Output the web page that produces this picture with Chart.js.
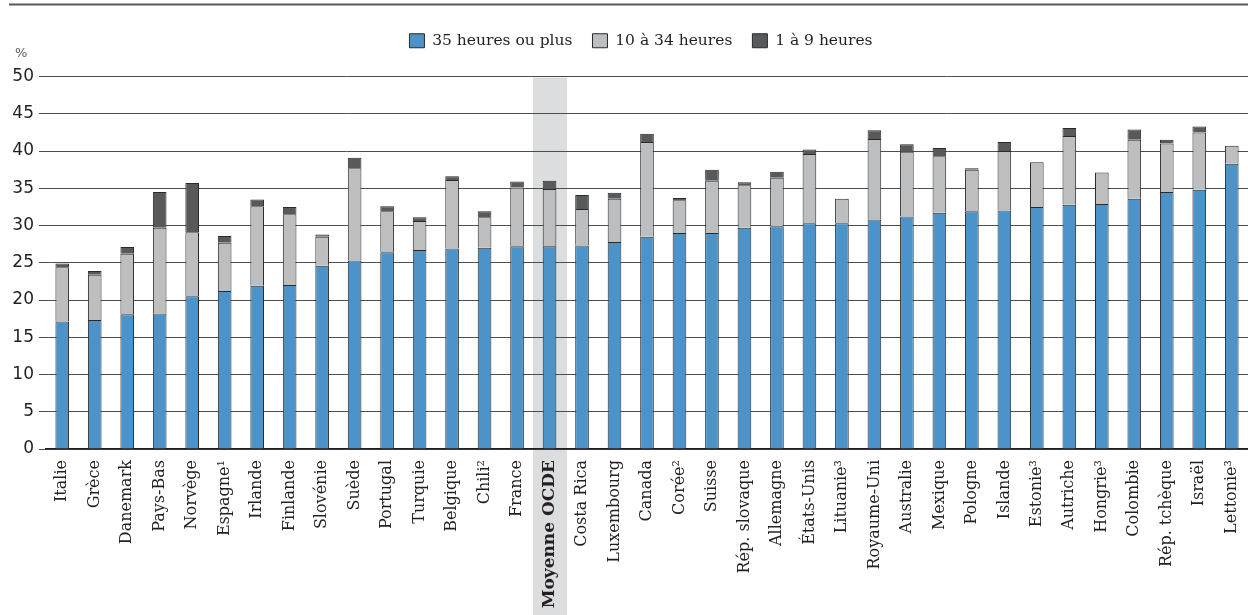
<!DOCTYPE html>
<html><head><meta charset="utf-8">
<script src="https://cdn.jsdelivr.net/npm/chart.js@4.4.1/dist/chart.umd.min.js"></script>
<style>html,body{margin:0;padding:0;background:#fff;}canvas{display:block;}</style>
</head><body>
<canvas id="c" width="1248" height="615"></canvas>
<script>
const categories = ["Italie","Grèce","Danemark","Pays-Bas","Norvège","Espagne¹","Irlande","Finlande","Slovénie","Suède","Portugal","Turquie","Belgique","Chili²","France","Moyenne OCDE","Costa Rica","Luxembourg","Canada","Corée²","Suisse","Rép. slovaque","Allemagne","États-Unis","Lituanie³","Royaume-Uni","Australie","Mexique","Pologne","Islande","Estonie³","Autriche","Hongrie³","Colombie","Rép. tchèque","Israël","Lettonie³"];
const seriesNames = ["35 heures ou plus","10 à 34 heures","1 à 9 heures"];
const hours35plus = [17.1,17.3,18.1,18.2,20.5,21.2,21.9,22.0,24.6,25.3,26.4,26.7,26.9,27.0,27.2,27.2,27.3,27.8,28.5,29.0,29.0,29.7,29.9,30.3,30.3,30.8,31.2,31.7,31.9,32.0,32.5,32.8,32.9,33.6,34.5,34.8,38.3];
const hours10to34 = [7.3,6.1,8.1,11.5,8.6,6.5,10.7,9.5,3.9,12.4,5.5,3.9,9.2,4.1,7.9,7.7,4.9,5.8,12.7,4.4,7.0,5.7,6.5,9.3,3.3,10.8,8.7,7.6,5.6,8.0,6.0,9.2,4.2,7.9,6.5,7.7,2.4];
const hours1to9 = [0.5,0.5,0.9,4.8,6.6,0.9,0.9,1.0,0.3,1.4,0.7,0.5,0.5,0.8,0.8,1.1,1.9,0.8,1.1,0.3,1.5,0.4,0.8,0.6,0,1.2,1.0,1.1,0.2,1.2,0,1.1,0,1.4,0.5,0.8,0];
const yTicks = [0,5,10,15,20,25,30,35,40,45,50];
const highlightLabel = "Moyenne OCDE";

const TXT = '#231f20';
const extras = {
  id: 'extras',
  beforeInit(chart) {
    const lg = chart.legend;
    if (lg && !lg._patched) {
      const orig = lg.fit;
      lg.fit = function () { orig.call(this); this.height += 18; };
      lg._patched = true;
    }
  },
  afterLayout(chart) {
    if (chart.legend) { chart.legend.left += 34; }
  },
  beforeDraw(chart) {
    const ctx = chart.ctx, x = chart.scales.x, ca = chart.chartArea;
    const i = categories.indexOf(highlightLabel);
    const cx = x.getPixelForValue(i);
    ctx.save();
    ctx.fillStyle = '#dcdddf';
    ctx.fillRect(cx - 16.5, ca.top + 1, 34, chart.height - ca.top);
    ctx.restore();
  },
  afterDraw(chart) {
    const ctx = chart.ctx;
    ctx.save();
    ctx.strokeStyle = '#58595b';
    ctx.lineWidth = 2;
    ctx.beginPath(); ctx.moveTo(9, 4.5); ctx.lineTo(1248, 4.5); ctx.stroke();
    ctx.fillStyle = '#58595b';
    ctx.font = '13px "DejaVu Sans"';
    ctx.textBaseline = 'alphabetic';
    ctx.fillText('%', 15, 57);
    ctx.restore();
  }
};

const mk = (label, data, color) => ({label, data, backgroundColor: color, borderColor: '#2a2a2a', borderWidth: 1, borderSkipped: 'start', barPercentage: 0.42, categoryPercentage: 1.0});

new Chart(document.getElementById('c'), {
  type: 'bar',
  data: {
    labels: categories,
    datasets: [
      mk(seriesNames[0], hours35plus, '#4b93c8'),
      mk(seriesNames[1], hours10to34, '#bdbec0'),
      mk(seriesNames[2], hours1to9, '#58595b')
    ]
  },
  options: {
    responsive: false,
    animation: false,
    devicePixelRatio: 1,
    layout: {padding: {top: 13, left: 0, right: 0, bottom: 0}},
    plugins: {
      legend: {
        position: 'top',
        labels: {
          boxWidth: 15, boxHeight: 14, padding: 20, color: TXT,
          font: {family: '"DejaVu Serif"', size: 15.5}
        }
      },
      tooltip: {enabled: false}
    },
    scales: {
      x: {
        stacked: true,
        grid: {display: false, drawTicks: false},
        border: {display: true, color: '#231f20', width: 1.5},
        ticks: {
          autoSkip: false, minRotation: 90, maxRotation: 90, padding: 11, color: TXT,
          font: (c) => (categories[c.index] === highlightLabel
            ? {family: '"DejaVu Serif"', size: 17, weight: 'bold'}
            : {family: '"DejaVu Serif"', size: 16, weight: 'normal'})
        },
        afterFit: (s) => { s.height = 166; s.paddingLeft = 0; s.paddingRight = 0; }
      },
      y: {
        stacked: true, min: 0, max: 50,
        afterBuildTicks: (s) => { s.ticks = yTicks.map(v => ({value: v})); },
        grid: {color: '#4d4e50', lineWidth: 1, tickLength: 7, drawTicks: true},
        border: {display: false},
        ticks: {padding: 5, color: TXT, font: {family: '"DejaVu Sans"', size: 17}},
        afterFit: (s) => { s.width = 46; s.paddingTop = 0; s.paddingBottom = 0; }
      }
    }
  },
  plugins: [extras]
});
</script>
</body></html>
